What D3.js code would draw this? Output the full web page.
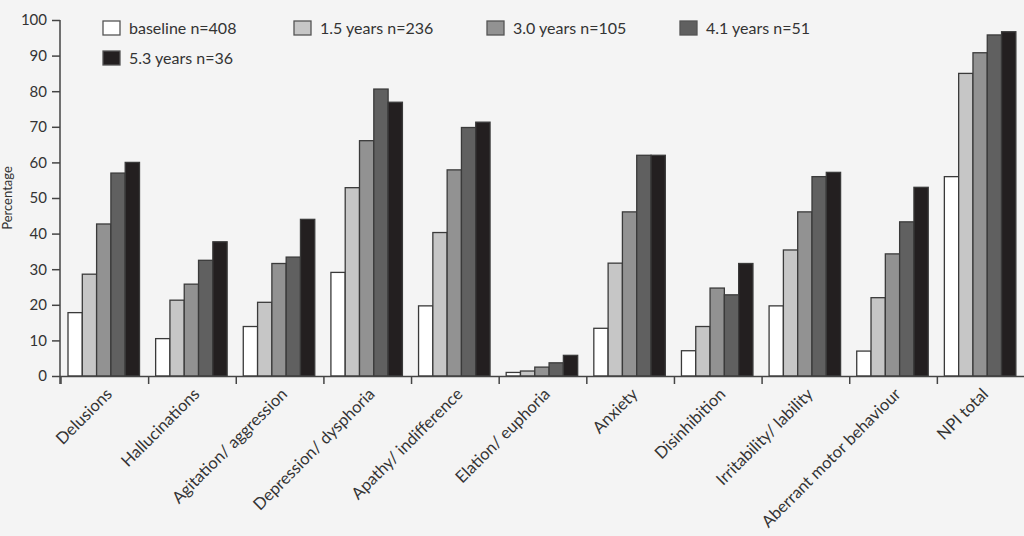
<!DOCTYPE html>
<html><head><meta charset="utf-8">
<script src="https://cdn.jsdelivr.net/npm/d3@7"></script>
<style>
html,body{margin:0;padding:0;background:#f4f4f4;}
svg{display:block;}
text{font-family:Lato,"Open Sans",sans-serif;fill:#333;}
</style></head>
<body>
<svg id="chart" width="1024" height="536"></svg>
<script>
const categories = ["Delusions","Hallucinations","Agitation/ aggression","Depression/ dysphoria","Apathy/ indifference","Elation/ euphoria","Anxiety","Disinhibition","Irritability/ lability","Aberrant motor behaviour","NPI total"];
const seriesNames = ["baseline n=408","1.5 years n=236","3.0 years n=105","4.1 years n=51","5.3 years n=36"];
const baseline = [17.8,10.5,13.9,29.1,19.7,1.0,13.4,7.1,19.7,7.0,56.0];
const y15 = [28.6,21.3,20.7,52.9,40.3,1.4,31.7,13.9,35.4,22.0,85.0];
const y30 = [42.7,25.8,31.6,66.1,57.9,2.5,46.1,24.7,46.1,34.3,90.8];
const y41 = [57.0,32.5,33.4,80.6,69.8,3.7,62.0,22.8,56.0,43.3,95.8];
const y53 = [60.0,37.7,44.0,76.9,71.3,5.8,62.0,31.6,57.2,53.0,96.7];
const yTicks = [0,10,20,30,40,50,60,70,80,90,100];
const colors = ["#ffffff","#c6c6c6","#929292","#606060","#231f20"];
const seriesData = [baseline,y15,y30,y41,y53];

const svg = d3.select("#chart");
const x0 = d3.scaleBand().domain(categories).range([61,1025]).paddingInner(0).paddingOuter(0);
const x1 = d3.scaleBand().domain(d3.range(5)).range([7, 78.5]).padding(0);
const y = d3.scaleLinear().domain([0,100]).range([376,20]);

// bars
const groups = svg.append("g").selectAll("g").data(categories).join("g")
  .attr("transform", d => `translate(${x0(d)},0)`);
groups.selectAll("rect").data((d,i) => seriesData.map((s,k)=>({k, v:s[i]}))).join("rect")
  .attr("x", d => x1(d.k))
  .attr("width", x1.bandwidth())
  .attr("y", d => y(d.v))
  .attr("height", d => y(0)-y(d.v))
  .attr("fill", d => colors[d.k])
  .attr("stroke", "#3a3a3a")
  .attr("stroke-width", 1.3);

// y axis
const yAxis = d3.axisLeft(y).tickValues(yTicks).tickSize(8).tickPadding(5);
const gy = svg.append("g").attr("transform","translate(60,0)").call(yAxis);
gy.select(".domain").attr("stroke","#444").attr("stroke-width",1.5).attr("d","M0,20V384");
gy.selectAll(".tick line").attr("stroke","#444").attr("stroke-width",1.5);
gy.selectAll(".tick text").style("font-family","Lato,sans-serif").style("font-size","15px").attr("fill","#333");

// x axis line and ticks at band boundaries
svg.append("line").attr("x1",60).attr("x2",1024).attr("y1",376.5).attr("y2",376.5)
  .attr("stroke","#444").attr("stroke-width",1.5);
svg.append("g").selectAll("line").data(categories).join("line")
  .attr("x1", d => x0(d)).attr("x2", d => x0(d))
  .attr("y1",376).attr("y2",384).attr("stroke","#444").attr("stroke-width",1.5);

// x labels
svg.append("g").selectAll("text").data(categories).join("text")
  .attr("transform", d => `translate(${x0(d)+x0.bandwidth()/2},387) rotate(-45)`)
  .attr("text-anchor","end")
  .attr("dy","0.7em")
  .style("font-size","16.5px")
  .text(d => d);

// y label
svg.append("text").attr("transform","translate(12,198) rotate(-90)")
  .attr("text-anchor","middle").style("font-size","13px").text("Percentage");

// legend
const legendPos = [[103,21],[294,21],[487,21],[680,21],[103,51]];
const lg = svg.append("g").selectAll("g").data(seriesNames).join("g")
  .attr("transform",(d,i)=>`translate(${legendPos[i][0]},${legendPos[i][1]})`);
lg.append("rect").attr("width",17).attr("height",14)
  .attr("fill",(d,i)=>colors[i]).attr("stroke","#555").attr("stroke-width",1.3);
lg.append("text").attr("x",26).attr("y",12.5).style("font-size","16px").text(d=>d);
</script>
</body></html>
